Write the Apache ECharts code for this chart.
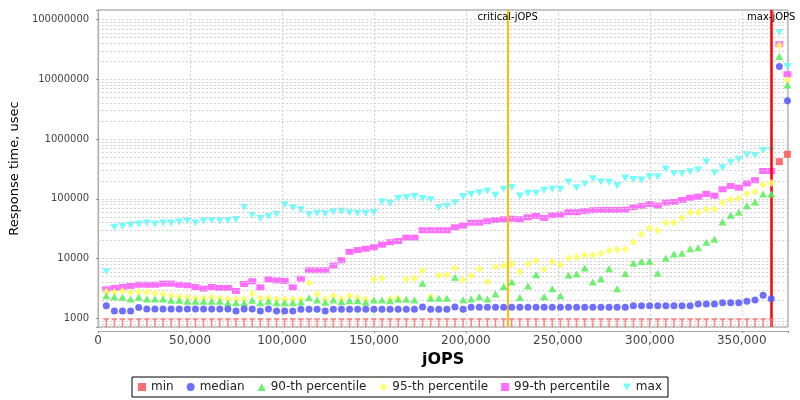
<!DOCTYPE html>
<html>
<head>
<meta charset="utf-8">
<script src="https://cdn.jsdelivr.net/npm/echarts@6/dist/echarts.min.js"></script>
<style>
    html,body{margin:0;padding:0;background:#fff;}
    #chartRt{width:800px;height:400px;}
</style>
</head>
<body>
<div id="chartRt"></div>
<script>
var jops=[4410,8820,13230,17640,22050,26460,30870,35280,39690,44100,
    48510,52920,57330,61740,66150,70560,74970,79380,83790,88200,
    92610,97020,101430,105840,110250,114660,119070,123480,127890,132300,
    136710,141120,145530,149940,154350,158760,163170,167580,171990,176400,
    180810,185220,189630,194040,198450,202860,207270,211680,216090,220500,
    224910,229320,233730,238140,242550,246960,251370,255780,260190,264600,
    269010,273420,277830,282240,286650,291060,295470,299880,304290,308700,
    313110,317520,321930,326340,330750,335160,339570,343980,348390,352800,
    357210,361620,366030,370440,374850];

var rtMin=[1000,1000,1000,1000,1000,1000,1000,1000,1000,1000,
    1000,1000,1000,1000,1000,1000,1000,1000,1000,1000,
    1000,1000,1000,1000,1000,1000,1000,1000,1000,1000,
    1000,1000,1000,1000,1000,1000,1000,1000,1000,1000,
    1000,1000,1000,1000,1000,1000,1000,1000,1000,1000,
    1000,1000,1000,1000,1000,1000,1000,1000,1000,1000,
    1000,1000,1000,1000,1000,1000,1000,1000,1000,1000,
    1000,1000,1000,1000,1000,1000,1000,1000,1000,1000,
    1000,1000,1000,420000,558000];

var rtMedian=[1620,1320,1320,1320,1520,1430,1430,1430,1430,1430,
    1430,1430,1430,1430,1430,1430,1320,1430,1430,1320,
    1430,1320,1320,1320,1420,1420,1420,1320,1420,1420,
    1420,1420,1420,1420,1420,1420,1420,1420,1420,1540,
    1420,1420,1420,1540,1420,1530,1530,1530,1530,1530,
    1530,1530,1530,1530,1530,1530,1530,1530,1530,1530,
    1530,1530,1530,1530,1530,1620,1620,1620,1620,1620,
    1620,1620,1620,1740,1740,1740,1820,1820,1820,1930,
    2030,2430,2130,16400000,4400000];

var rt90=[2390,2300,2250,2100,2250,2100,2100,2100,2000,2000,
    1930,1930,1930,1930,1930,1820,1820,1820,2000,1820,
    1930,1820,1820,1820,1870,2210,2030,1850,2030,1900,
    1970,1970,1850,2030,2030,1970,2080,2080,2030,3860,
    2160,2160,2160,4860,2050,2100,2300,2100,2550,3420,
    4060,2220,3490,5370,2300,3130,2380,5250,5520,6960,
    4060,4610,6770,3130,5580,8340,8900,9000,5670,10100,
    11900,12300,14600,15200,18800,21100,41000,53100,59700,76900,
    88700,121000,121000,24100000,8100000];

var rt95=[2790,2730,2870,2730,2790,2730,2620,2520,2390,2300,
    2250,2160,2160,2250,2160,2100,2100,2100,2580,2160,
    2160,2100,2080,2080,2080,3900,2550,2100,2390,2100,
    2390,2200,2080,4500,4680,2100,2160,4500,4680,6270,
    2300,5250,5370,6880,4380,5170,6700,4100,7320,7600,
    8120,6040,8200,9200,6650,8870,7900,10100,10500,11400,
    11400,12300,13600,14200,14200,19000,25500,32500,29500,39700,
    39700,47800,59000,59000,67000,67000,87000,97700,101500,121500,
    131500,172000,185000,37000000,9800000];

var rt99=[3060,3220,3340,3480,3650,3650,3650,3800,3800,3650,
    3570,3340,3130,3340,3220,3220,2870,3760,4170,3300,
    4500,4300,4220,3300,4610,6370,6370,6370,7600,9370,
    13000,13900,14600,15500,17100,18800,19700,22400,22400,29800,
    29800,29800,29800,33400,35600,39900,39900,42200,44300,45500,
    46600,45500,49200,51700,47900,53100,54400,59700,59700,62700,
    64400,65200,65200,65200,65900,72300,76000,82200,76900,86300,
    88700,95900,104700,109000,121000,113000,145000,164000,154000,182000,
    205000,293000,293000,38900000,12200000];

var rtMax=[6070,33600,34900,36400,37900,39400,37900,39400,39400,40900,
    42500,39400,42500,43500,42500,43500,45200,72400,53100,46800,
    50600,55500,80000,70800,65600,54600,57500,56200,60800,62000,
    58300,57500,57500,58900,89000,84400,101000,105000,110000,101000,
    97000,70800,75500,86000,110000,118000,127000,136000,115000,145000,
    155000,112000,124000,124000,139000,145000,145000,192000,154000,178000,
    218000,194000,190000,166000,224000,210000,207000,235000,235000,313000,
    265000,265000,285000,305000,415000,275000,333000,405000,460000,550000,
    530000,645000,655000,60800000,16400000];

var seriesNames=['min','median','90-th percentile','95-th percentile','99-th percentile','max'];
var criticalJops=222700;
var maxJops=366030;
var yDecades=[100,1000,10000,100000,1000000,10000000,100000000];

var yLow=715, yHigh=145400000, xHigh=375150;

var chartFun={
    pairs:function (vals) {//jops + value
        var out=[];
        for(var i=0;i<vals.length;i++){
            out.push([jops[i],vals[i]]);
        }
        return out;
    },
    minorGrid:function () {//log gridlines 2..9 x decade
        var out=[];
        for(var d in yDecades){
            for(var k=2;k<=9;k++){
                var v=k*yDecades[d];
                if(v>yLow&&v<yHigh){
                    out.push({yAxis:v});
                }
            }
        }
        return out;
    },
    minData:function () {//min: T mark at the floor, square otherwise
        var out=[];
        for(var i=0;i<rtMin.length;i++){
            if(rtMin[i]<=1000){
                out.push({
                    value:[jops[i],rtMin[i]],
                    symbol:'path://M0,0 L10,0 L10,4 L6.5,4 L6.5,18 L3.5,18 L3.5,4 L0,4 Z',
                    symbolSize:[5,9],
                    symbolOffset:[0,4.5],
                    itemStyle:{color:'#ff6a6a',opacity:0.8}
                });
            }else{
                out.push([jops[i],rtMin[i]]);
            }
        }
        return out;
    },
    draw:function () {
        var myChart = echarts.init(document.getElementById('chartRt'));
        var font='DejaVu Sans';
        var option = {
            animation:false,
            backgroundColor:'#fff',
            textStyle:{fontFamily:font},
            grid:{
                left:94,
                right:12,
                top:10,
                bottom:73,
                show:true,
                backgroundColor:'#fff',
                borderColor:'#888',
                borderWidth:1
            },
            legend:{
                data:seriesNames,
                bottom:3,
                left:'center',
                itemWidth:8,
                itemHeight:8,
                itemGap:13,
                padding:[4,6],
                borderColor:'#000',
                borderWidth:1,
                backgroundColor:'#fff',
                selectedMode:false,
                textStyle:{fontFamily:font,fontSize:12,color:'#222'}
            },
            xAxis:{
                type:'value',
                min:0,
                max:xHigh,
                interval:50000,
                offset:4,
                name:'jOPS',
                nameLocation:'middle',
                nameGap:20,
                nameTextStyle:{fontFamily:font,fontSize:16,fontWeight:'bold',color:'#000'},
                axisLine:{show:true,lineStyle:{color:'#aaa'}},
                axisTick:{show:true,length:2,lineStyle:{color:'#888'}},
                axisLabel:{
                    fontFamily:font,fontSize:12,color:'#444',margin:4,
                    formatter:function (v) {
                        return v%50000===0 ? v.toLocaleString('en-US') : '';
                    }
                },
                splitLine:{show:true,lineStyle:{color:'#d0d0d0',type:[2,2]}}
            },
            yAxis:{
                type:'log',
                logBase:10,
                min:yLow,
                max:yHigh,
                offset:4,
                name:'Response time, usec',
                nameLocation:'middle',
                nameGap:63,
                nameTextStyle:{fontFamily:font,fontSize:13,color:'#000'},
                axisLine:{show:true,lineStyle:{color:'#aaa'}},
                axisTick:{show:true,length:2,lineStyle:{color:'#888'}},
                axisLabel:{
                    fontFamily:font,fontSize:10,color:'#444',margin:5,
                    formatter:function (v) {
                        var l=Math.log(v)/Math.LN10;
                        return Math.abs(l-Math.round(l))<1e-6 ? String(Math.round(v)) : '';
                    }
                },
                splitLine:{show:true,lineStyle:{color:'#d0d0d0',type:[2,2]}}
            },
            series:[
                {
                    name:'gridMinor',
                    type:'scatter',
                    data:[],
                    z:1,
                    silent:true,
                    markLine:{
                        silent:true,
                        symbol:'none',
                        label:{show:false},
                        lineStyle:{color:'#d0d0d0',type:[2,2],width:1},
                        data:chartFun.minorGrid()
                    }
                },
                {
                    name:'min',
                    type:'scatter',
                    symbol:'rect',
                    symbolSize:7,
                    z:8,
                    itemStyle:{color:'#ff5555',opacity:0.85},
                    data:chartFun.minData()
                },
                {
                    name:'median',
                    type:'scatter',
                    symbol:'circle',
                    symbolSize:7,
                    z:7,
                    itemStyle:{color:'#5555ff',opacity:0.85},
                    data:chartFun.pairs(rtMedian)
                },
                {
                    name:'90-th percentile',
                    type:'scatter',
                    symbol:'triangle',
                    symbolSize:[8,7],
                    z:6,
                    itemStyle:{color:'#55ee55',opacity:0.85},
                    data:chartFun.pairs(rt90)
                },
                {
                    name:'95-th percentile',
                    type:'scatter',
                    symbol:'diamond',
                    symbolSize:[7,8],
                    z:5,
                    itemStyle:{color:'#ffff55',opacity:0.85},
                    data:chartFun.pairs(rt95)
                },
                {
                    name:'99-th percentile',
                    type:'scatter',
                    symbol:'rect',
                    symbolSize:[8,6],
                    z:4,
                    itemStyle:{color:'#ff55ff',opacity:0.85},
                    data:chartFun.pairs(rt99)
                },
                {
                    name:'max',
                    type:'scatter',
                    symbol:'path://M0,0 L10,0 L5,9 Z',
                    symbolSize:[8,7],
                    z:3,
                    itemStyle:{color:'#55ffff',opacity:0.85},
                    data:chartFun.pairs(rtMax)
                },
                {
                    name:'jopsLines',
                    type:'scatter',
                    data:[],
                    z:10,
                    silent:true,
                    markLine:{
                        silent:true,
                        symbol:'none',
                        label:{show:true,position:'end',distance:-12,fontFamily:font,fontSize:10,color:'#000'},
                        data:[
                            {xAxis:criticalJops,lineStyle:{color:'#ffc000',width:2,type:'solid'},label:{formatter:'critical-jOPS'}},
                            {xAxis:maxJops,lineStyle:{color:'#ff0000',width:2.5,type:'solid'},label:{formatter:'max-jOPS'}}
                        ]
                    }
                }
            ]
        };
        myChart.setOption(option);
    }
};
chartFun.draw();
</script>
</body>
</html>
